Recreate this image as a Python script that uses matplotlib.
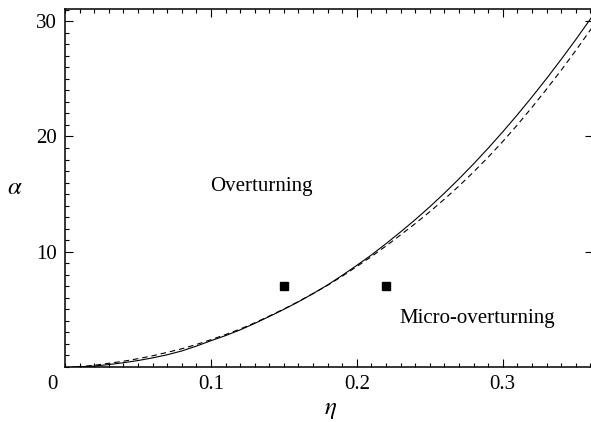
import matplotlib
matplotlib.use("Agg")
import matplotlib.pyplot as plt
from matplotlib.ticker import MultipleLocator, FixedLocator

plt.rcParams['font.family'] = ['Liberation Serif', 'DejaVu Serif']
plt.rcParams['mathtext.fontset'] = 'stix'

# Data
eta_solid = [0.005, 0.01, 0.02, 0.03, 0.04, 0.05, 0.06, 0.07, 0.08, 0.09,
             0.10, 0.11, 0.12, 0.13, 0.14, 0.15, 0.16, 0.17, 0.18, 0.19,
             0.20, 0.21, 0.22, 0.23, 0.24, 0.25, 0.26, 0.27, 0.28, 0.29,
             0.30, 0.31, 0.32, 0.33, 0.34, 0.35, 0.36, 0.3615]
alpha_solid = [0.0, 0.02, 0.08, 0.21, 0.37, 0.56, 0.79, 1.06, 1.39, 1.81,
               2.28, 2.72, 3.22, 3.78, 4.38, 5.00, 5.66, 6.37, 7.12, 7.95,
               8.82, 9.72, 10.70, 11.72, 12.78, 13.90, 15.08, 16.32, 17.62, 18.98,
               20.40, 21.88, 23.42, 25.02, 26.68, 28.40, 30.18, 30.45]

eta_dashed = [0.008, 0.01, 0.02, 0.03, 0.04, 0.05, 0.06, 0.07, 0.08, 0.09,
              0.10, 0.11, 0.12, 0.13, 0.14, 0.15, 0.16, 0.17, 0.18, 0.19,
              0.20, 0.21, 0.22, 0.23, 0.24, 0.25, 0.26, 0.27, 0.28, 0.29,
              0.30, 0.31, 0.32, 0.33, 0.34, 0.35, 0.36, 0.3615]
alpha_dashed = [0.0, 0.03, 0.15, 0.32, 0.50, 0.72, 0.97, 1.27, 1.58, 1.95,
                2.37, 2.81, 3.29, 3.83, 4.42, 5.03, 5.68, 6.37, 7.09, 7.88,
                8.72, 9.58, 10.50, 11.46, 12.44, 13.47, 14.56, 15.70, 16.92, 18.20,
                19.56, 21.00, 22.52, 24.10, 25.74, 27.45, 29.23, 29.50]

marker_eta = [0.15, 0.22]
marker_alpha = [7, 7]

region_labels = ["Overturning", "Micro-overturning"]
region_pos = [(0.0997, 15.3), (0.229, 3.8)]

xticks = [0.1, 0.2, 0.3]
xticklabels = ["0.1", "0.2", "0.3"]
yticks = [10, 20, 30]
yticklabels = ["10", "20", "30"]

W, H = 591, 422
fig = plt.figure(figsize=(W / 100, H / 100), dpi=100)
left, right, bottom, top = 65 / W, 592.5 / W, (H - 367) / H, (H - 8.5) / H
ax = fig.add_axes([left, bottom, right - left, top - bottom])

ax.plot(eta_solid, alpha_solid, color='black', lw=0.8)
ax.plot(eta_dashed, alpha_dashed, color='black', lw=0.8, dashes=(5, 3.5))
ax.plot(marker_eta, marker_alpha, ls='none', marker='s', ms=6, color='black')

for txt, (xx, yy) in zip(region_labels, region_pos):
    ax.text(xx, yy, txt, fontsize=15, ha='left', va='baseline')

ax.set_xlim(0, 0.3615)
ax.set_ylim(0, 31.1)

ax.xaxis.set_major_locator(FixedLocator(xticks))
ax.set_xticklabels(xticklabels)
ax.xaxis.set_minor_locator(MultipleLocator(0.01))
ax.yaxis.set_major_locator(FixedLocator(yticks))
ax.set_yticklabels(yticklabels)
ax.yaxis.set_minor_locator(MultipleLocator(1))

ax.tick_params(which='both', direction='in', top=True, right=True, width=0.8, labelsize=15)
ax.tick_params(which='major', length=5.8, pad=6)
ax.tick_params(which='minor', length=2.6)
ax.tick_params(axis='y', which='minor', right=False)
for s in ax.spines.values():
    s.set_linewidth(1.1)

# corner zero label
ax.annotate("0", xy=(0, 0), xycoords='data', xytext=(-9.4, -12.4), textcoords='offset points',
            fontsize=15, ha='center', va='center')

fig.text(15 / W, 1 - 188 / H, r'$\alpha$', fontsize=18, ha='center', va='center')
fig.text(331 / W, 1 - 410 / H, r'$\eta$', fontsize=18, ha='center', va='center')

fig.savefig("out.png", dpi=100)
